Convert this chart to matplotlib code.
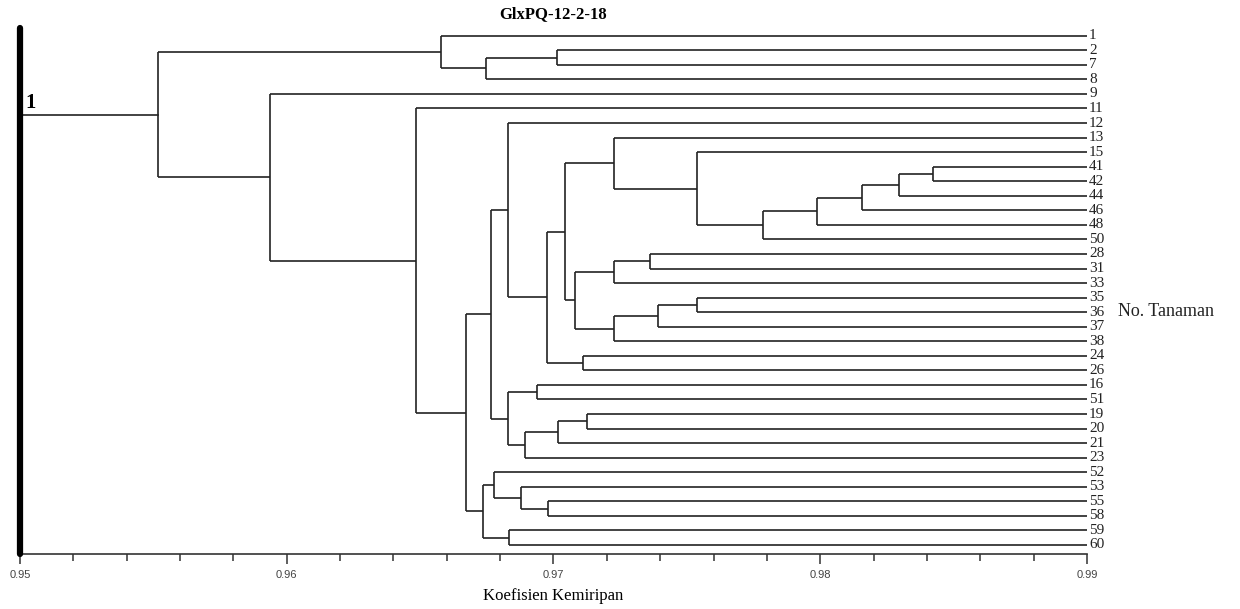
import matplotlib
matplotlib.use('Agg')
import matplotlib.pyplot as plt
from matplotlib.ticker import MultipleLocator

# leaf order, top to bottom
leaves = ['1', '2', '7', '8', '9', '11', '12', '13', '15', '41', '42', '44',
          '46', '48', '50', '28', '31', '33', '35', '36', '37', '38', '24', '26',
          '16', '51', '19', '20', '21', '23', '52', '53', '55', '58', '59', '60']

# merges: child a, child b, similarity coefficient (new cluster gets name c<n>)
merge_a = ['41', 'c1', 'c2', 'c3', 'c4', '15', '13', '28', 'c8', '35', 'c10', 'c11',
           'c9', 'c7', '24', 'c14', '12', '16', '19', 'c19', 'c20', 'c18', 'c17',
           '55', '53', '52', '59', 'c26', 'c23', '11', '9', '2', 'c32', '1', 'c34']
merge_b = ['42', '44', '46', '48', '50', 'c5', 'c6', '31', '33', '36', '37', '38',
           'c12', 'c13', '26', 'c15', 'c16', '51', '20', '21', '23', 'c21', 'c22',
           '58', 'c24', 'c25', '60', 'c27', 'c28', 'c29', 'c30', '7', '8', 'c33', 'c31']
merge_sim = [0.98422, 0.98297, 0.98158, 0.97987, 0.97785, 0.97538, 0.97228,
             0.97360, 0.97228, 0.97538, 0.97393, 0.97228, 0.97081, 0.97044,
             0.97110, 0.96977, 0.96831, 0.96940, 0.97125, 0.97017, 0.96894,
             0.96831, 0.96765, 0.96979, 0.96879, 0.96778, 0.96834, 0.96737,
             0.96672, 0.96484, 0.95939, 0.97015, 0.96747, 0.96577, 0.95519]

x_min, x_max = 0.95, 0.99

fig = plt.figure(figsize=(12.4, 6.09), dpi=100)
ax = fig.add_axes([0.0161, 0.0903, 0.8605, 0.8637])

lc = '#222222'
pos = {}
for i, name in enumerate(leaves):
    pos[name] = (x_max, i)

for k in range(len(merge_sim)):
    xa, ya = pos[merge_a[k]]
    xb, yb = pos[merge_b[k]]
    s = merge_sim[k]
    ax.plot([s, s], [ya, yb], color=lc, lw=1.2, solid_capstyle='butt')
    ax.plot([s, xa], [ya, ya], color=lc, lw=1.2, solid_capstyle='butt')
    ax.plot([s, xb], [yb, yb], color=lc, lw=1.2, solid_capstyle='butt')
    pos['c%d' % (k + 1)] = (s, (ya + yb) / 2)

# root line back to the left bar
rx, ry = pos['c%d' % len(merge_sim)]
ax.plot([x_min, rx], [ry, ry], color=lc, lw=1.2)

# leaf labels
for i, name in enumerate(leaves):
    ax.text(x_max + 0.00008, i, name, ha='left', va='center',
            family='Liberation Serif', fontsize=11, color='#222222')

ax.set_xlim(x_min, x_max)
ax.set_ylim(35.62, -0.53)

# thick bar on the left
ax.plot([x_min, x_min], [-0.53, 35.62], color='black', lw=4.5,
        solid_capstyle='round', clip_on=False, zorder=5)
ax.text(x_min + 0.0002, ry - 0.15, '1', family='Liberation Serif',
        fontweight='bold', fontsize=15, ha='left', va='bottom')

for side in ['top', 'right', 'left']:
    ax.spines[side].set_visible(False)
ax.spines['bottom'].set_color('#333333')
ax.spines['bottom'].set_linewidth(1.2)
ax.set_yticks([])
ax.xaxis.set_major_locator(MultipleLocator(0.01))
ax.xaxis.set_minor_locator(MultipleLocator(0.002))
ax.tick_params(axis='x', which='major', direction='out', length=7.5, width=1.1,
               color='#333333', labelsize=8, labelcolor='#444444', pad=4)
ax.tick_params(axis='x', which='minor', direction='out', length=4.8, width=1.1,
               color='#333333')
ax.set_xticks([0.95, 0.96, 0.97, 0.98, 0.99])
ax.set_xticklabels(['0.95', '0.96', '0.97', '0.98', '0.99'],
                   family='Liberation Sans')

ax.set_title('GlxPQ-12-2-18', family='Liberation Serif', fontweight='bold',
             fontsize=12, pad=7)
ax.set_xlabel('Koefisien Kemiripan', family='Liberation Serif', fontsize=12,
              labelpad=6)
fig.text(1118 / 1240, 1 - 311 / 609, 'No. Tanaman', family='Liberation Serif',
         fontsize=13, ha='left', va='center', color='#222222')

fig.savefig('out.png', dpi=100)
